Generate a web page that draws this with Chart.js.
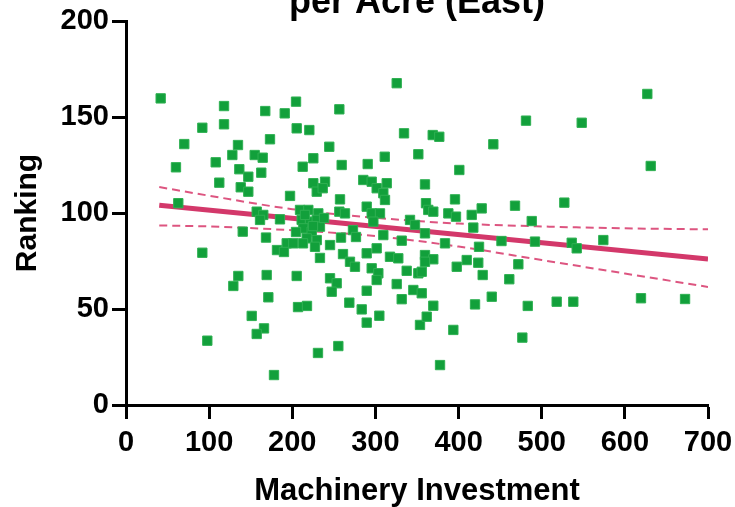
<!DOCTYPE html>
<html>
<head>
<meta charset="utf-8">
<title>per Acre (East)</title>
<script src="https://cdn.jsdelivr.net/npm/chart.js@4.4.1/dist/chart.umd.min.js"></script>
<style>
  html, body { margin: 0; padding: 0; background: #fff; overflow: hidden; }
  #wrap { width: 735px; height: 507px; }
</style>
</head>
<body>
<div id="wrap"><canvas id="scatter" width="735" height="507"></canvas></div>
<script>
// values
const investment = [
  41.7, 60.1, 62.9, 70.1, 91.8, 91.8, 97.8, 107.9, 112.2, 117.9,
  117.9, 127.9, 134.7, 136.3, 138.0, 147.1, 147.1, 140.4, 135.1, 129.1,
  154.8, 164.4, 162.7, 167.5, 173.2, 190.9, 204.5, 205.3, 197.3, 157.2,
  165.1, 161.2, 185.2, 168.4, 193.3, 201.2, 181.6, 190.0, 169.2, 171.2,
  151.2, 166.0, 157.2, 178.0, 205.3, 206.9, 217.7, 220.5, 225.3, 212.5,
  225.3, 239.4, 229.4, 236.6, 209.3, 219.3, 231.3, 211.3, 221.3, 229.4,
  233.3, 213.3, 223.4, 217.3, 229.4, 227.3, 233.3, 245.4, 244.5, 256.6,
  257.4, 256.6, 263.4, 258.6, 261.0, 245.4, 253.4, 247.4, 230.9, 255.4,
  259.4, 273.0, 276.6, 289.5, 269.4, 275.4, 290.7, 285.4, 295.5, 313.6,
  301.5, 309.5, 311.5, 289.5, 295.5, 305.5, 297.5, 309.5, 301.5, 317.5,
  327.5, 295.5, 303.5, 301.5, 289.5, 268.6, 283.5, 304.7, 289.5, 325.6,
  331.6, 331.6, 341.6, 347.6, 359.6, 337.6, 351.6, 345.6, 355.7, 353.6,
  361.7, 311.2, 325.6, 334.4, 351.6, 359.6, 360.8, 363.6, 369.6, 359.6,
  369.6, 359.6, 369.6, 355.7, 368.9, 376.8, 377.7, 395.7, 387.7, 396.9,
  383.7, 397.8, 409.8, 423.7, 393.7, 419.8, 400.9, 415.8, 417.7, 427.8,
  424.6, 429.0, 439.9, 441.8, 451.6, 461.0, 467.9, 471.9, 476.7, 483.2,
  481.1, 488.0, 491.9, 518.0, 527.2, 536.1, 542.1, 538.0, 548.1, 574.1,
  619.4, 627.0, 631.1, 672.4, 215.3, 224.9, 204.5, 238.2, 212.9
];
const ranking = [
  159.7, 123.8, 105.1, 135.9, 144.4, 79.3, 33.5, 126.4, 115.8, 155.7,
  146.2, 130.2, 135.4, 122.8, 113.4, 118.9, 111.1, 90.3, 67.2, 62.0,
  130.2, 128.8, 121.0, 153.1, 138.4, 151.9, 158.0, 144.1, 108.9, 100.7,
  99.0, 96.4, 96.7, 87.2, 84.2, 84.2, 80.7, 79.7, 67.7, 56.1,
  46.4, 39.9, 37.0, 15.6, 67.2, 51.0, 51.6, 143.2, 128.5, 124.1,
  115.5, 116.3, 111.1, 112.9, 101.6, 101.6, 99.8, 96.4, 95.5, 96.4,
  92.9, 92.0, 90.3, 86.8, 85.9, 82.4, 76.6, 83.3, 134.5, 154.0,
  107.1, 100.7, 99.8, 87.2, 78.6, 66.0, 63.4, 59.0, 27.1, 30.7,
  125.0, 91.1, 87.5, 79.0, 74.6, 72.0, 125.5, 117.2, 116.3, 115.5,
  112.9, 110.3, 106.8, 103.3, 99.8, 99.8, 95.5, 88.5, 81.6, 77.2,
  76.4, 71.2, 68.6, 65.1, 59.5, 53.3, 49.8, 46.5, 42.9, 63.0,
  55.1, 85.6, 96.4, 93.8, 89.4, 69.9, 68.6, 59.9, 58.2, 41.7,
  46.0, 129.3, 167.6, 141.5, 130.6, 114.9, 105.1, 101.6, 100.7, 78.1,
  75.9, 74.6, 51.7, 69.4, 140.6, 139.7, 20.8, 107.1, 99.8, 98.1,
  84.2, 72.0, 75.5, 74.1, 39.1, 52.4, 122.4, 99.0, 92.4, 102.4,
  82.4, 67.7, 56.4, 135.8, 85.4, 65.5, 103.8, 73.3, 35.1, 51.6,
  148.1, 95.8, 85.1, 53.8, 105.4, 84.5, 81.6, 53.8, 147.0, 85.9,
  55.6, 162.0, 124.5, 55.2, 99.0, 93.2, 90.1, 97.4, 84.2
];

// fitted line and its 95% band, read at a few x positions
const fitX = [40, 700];
const fitY = [104, 76];
const bandX = [40, 100, 200, 300, 400, 500, 600, 700];
const bandUpper = [113.5, 109, 102, 97.5, 94.5, 93, 92, 91.5];
const bandLower = [93.5, 93, 91, 88, 82.5, 75.5, 68.5, 61.5];

const xTicks = [0, 100, 200, 300, 400, 500, 600, 700];
const yTicks = [0, 50, 100, 150, 200];

const toXY = (xs, ys) => xs.map((x, i) => ({ x, y: ys[i] }));

const FONT = '"Liberation Sans", Arial, Helvetica, sans-serif';
const GREEN = '#12a03b';
const PINK = '#d3386a';

// title sits above the plot, partly cut by the top edge like in the source
const cutTitle = {
  id: 'cutTitle',
  afterDraw(chart) {
    const { ctx, chartArea } = chart;
    ctx.save();
    ctx.font = `bold 36px ${FONT}`;
    ctx.fillStyle = '#000';
    ctx.textAlign = 'center';
    ctx.textBaseline = 'alphabetic';
    ctx.fillText('per Acre (East)', (chartArea.left + chartArea.right) / 2, 13);
    ctx.restore();
  }
};

const axisCommon = {
  grid: {
    drawOnChartArea: false,
    drawTicks: true,
    tickLength: 14,
    tickWidth: 3,
    tickColor: '#000',
  },
  border: { display: true, color: '#000', width: 3 },
  ticks: {
    color: '#000',
    font: { family: FONT, size: 29, weight: 'bold' },
    padding: 3,
  },
};

new Chart(document.getElementById('scatter').getContext('2d'), {
  type: 'scatter',
  data: {
    datasets: [
      {
        label: 'Ranking',
        data: toXY(investment, ranking),
        pointStyle: 'rect',
        pointRadius: 6.6,
        backgroundColor: GREEN,
        borderColor: '#2fb052',
        borderWidth: 1,
        order: 0,
      },
      {
        type: 'line',
        label: 'fit',
        data: toXY(fitX, fitY),
        borderColor: PINK,
        borderWidth: 5,
        pointRadius: 0,
        fill: false,
        order: 1,
      },
      {
        type: 'line',
        label: 'upper',
        data: toXY(bandX, bandUpper),
        borderColor: '#dd5580',
        borderWidth: 2,
        borderDash: [8, 5],
        cubicInterpolationMode: 'monotone',
        pointRadius: 0,
        fill: false,
        order: 2,
      },
      {
        type: 'line',
        label: 'lower',
        data: toXY(bandX, bandLower),
        borderColor: '#dd5580',
        borderWidth: 2,
        borderDash: [8, 5],
        cubicInterpolationMode: 'monotone',
        pointRadius: 0,
        fill: false,
        order: 3,
      },
    ],
  },
  options: {
    responsive: false,
    animation: false,
    devicePixelRatio: 1,
    layout: { padding: { top: 21, left: 0, right: 0, bottom: 0 } },
    plugins: {
      legend: { display: false },
      tooltip: { enabled: false },
    },
    scales: {
      x: {
        ...axisCommon,
        type: 'linear',
        min: 0,
        max: 700,
        ticks: { ...axisCommon.ticks, padding: 7 },
        afterBuildTicks: (s) => { s.ticks = xTicks.map(v => ({ value: v })); },
        title: {
          display: true,
          text: 'Machinery Investment',
          color: '#000',
          font: { family: FONT, size: 31, weight: 'bold' },
          padding: { top: 12, bottom: -3 },
        },
        afterFit: (s) => {
          s.height = 102;
          s.paddingLeft = 0;
          s.paddingRight = 27;
        },
      },
      y: {
        ...axisCommon,
        type: 'linear',
        min: 0,
        max: 200,
        afterBuildTicks: (s) => { s.ticks = yTicks.map(v => ({ value: v })); },
        title: {
          display: true,
          text: 'Ranking',
          color: '#000',
          font: { family: FONT, size: 30, weight: 'bold' },
          padding: { top: 10, bottom: 0 },
        },
        afterFit: (s) => {
          s.width = 126;
          s.paddingTop = 0;
          s.paddingBottom = 0;
        },
      },
    },
  },
  plugins: [cutTitle],
});
</script>
</body>
</html>
